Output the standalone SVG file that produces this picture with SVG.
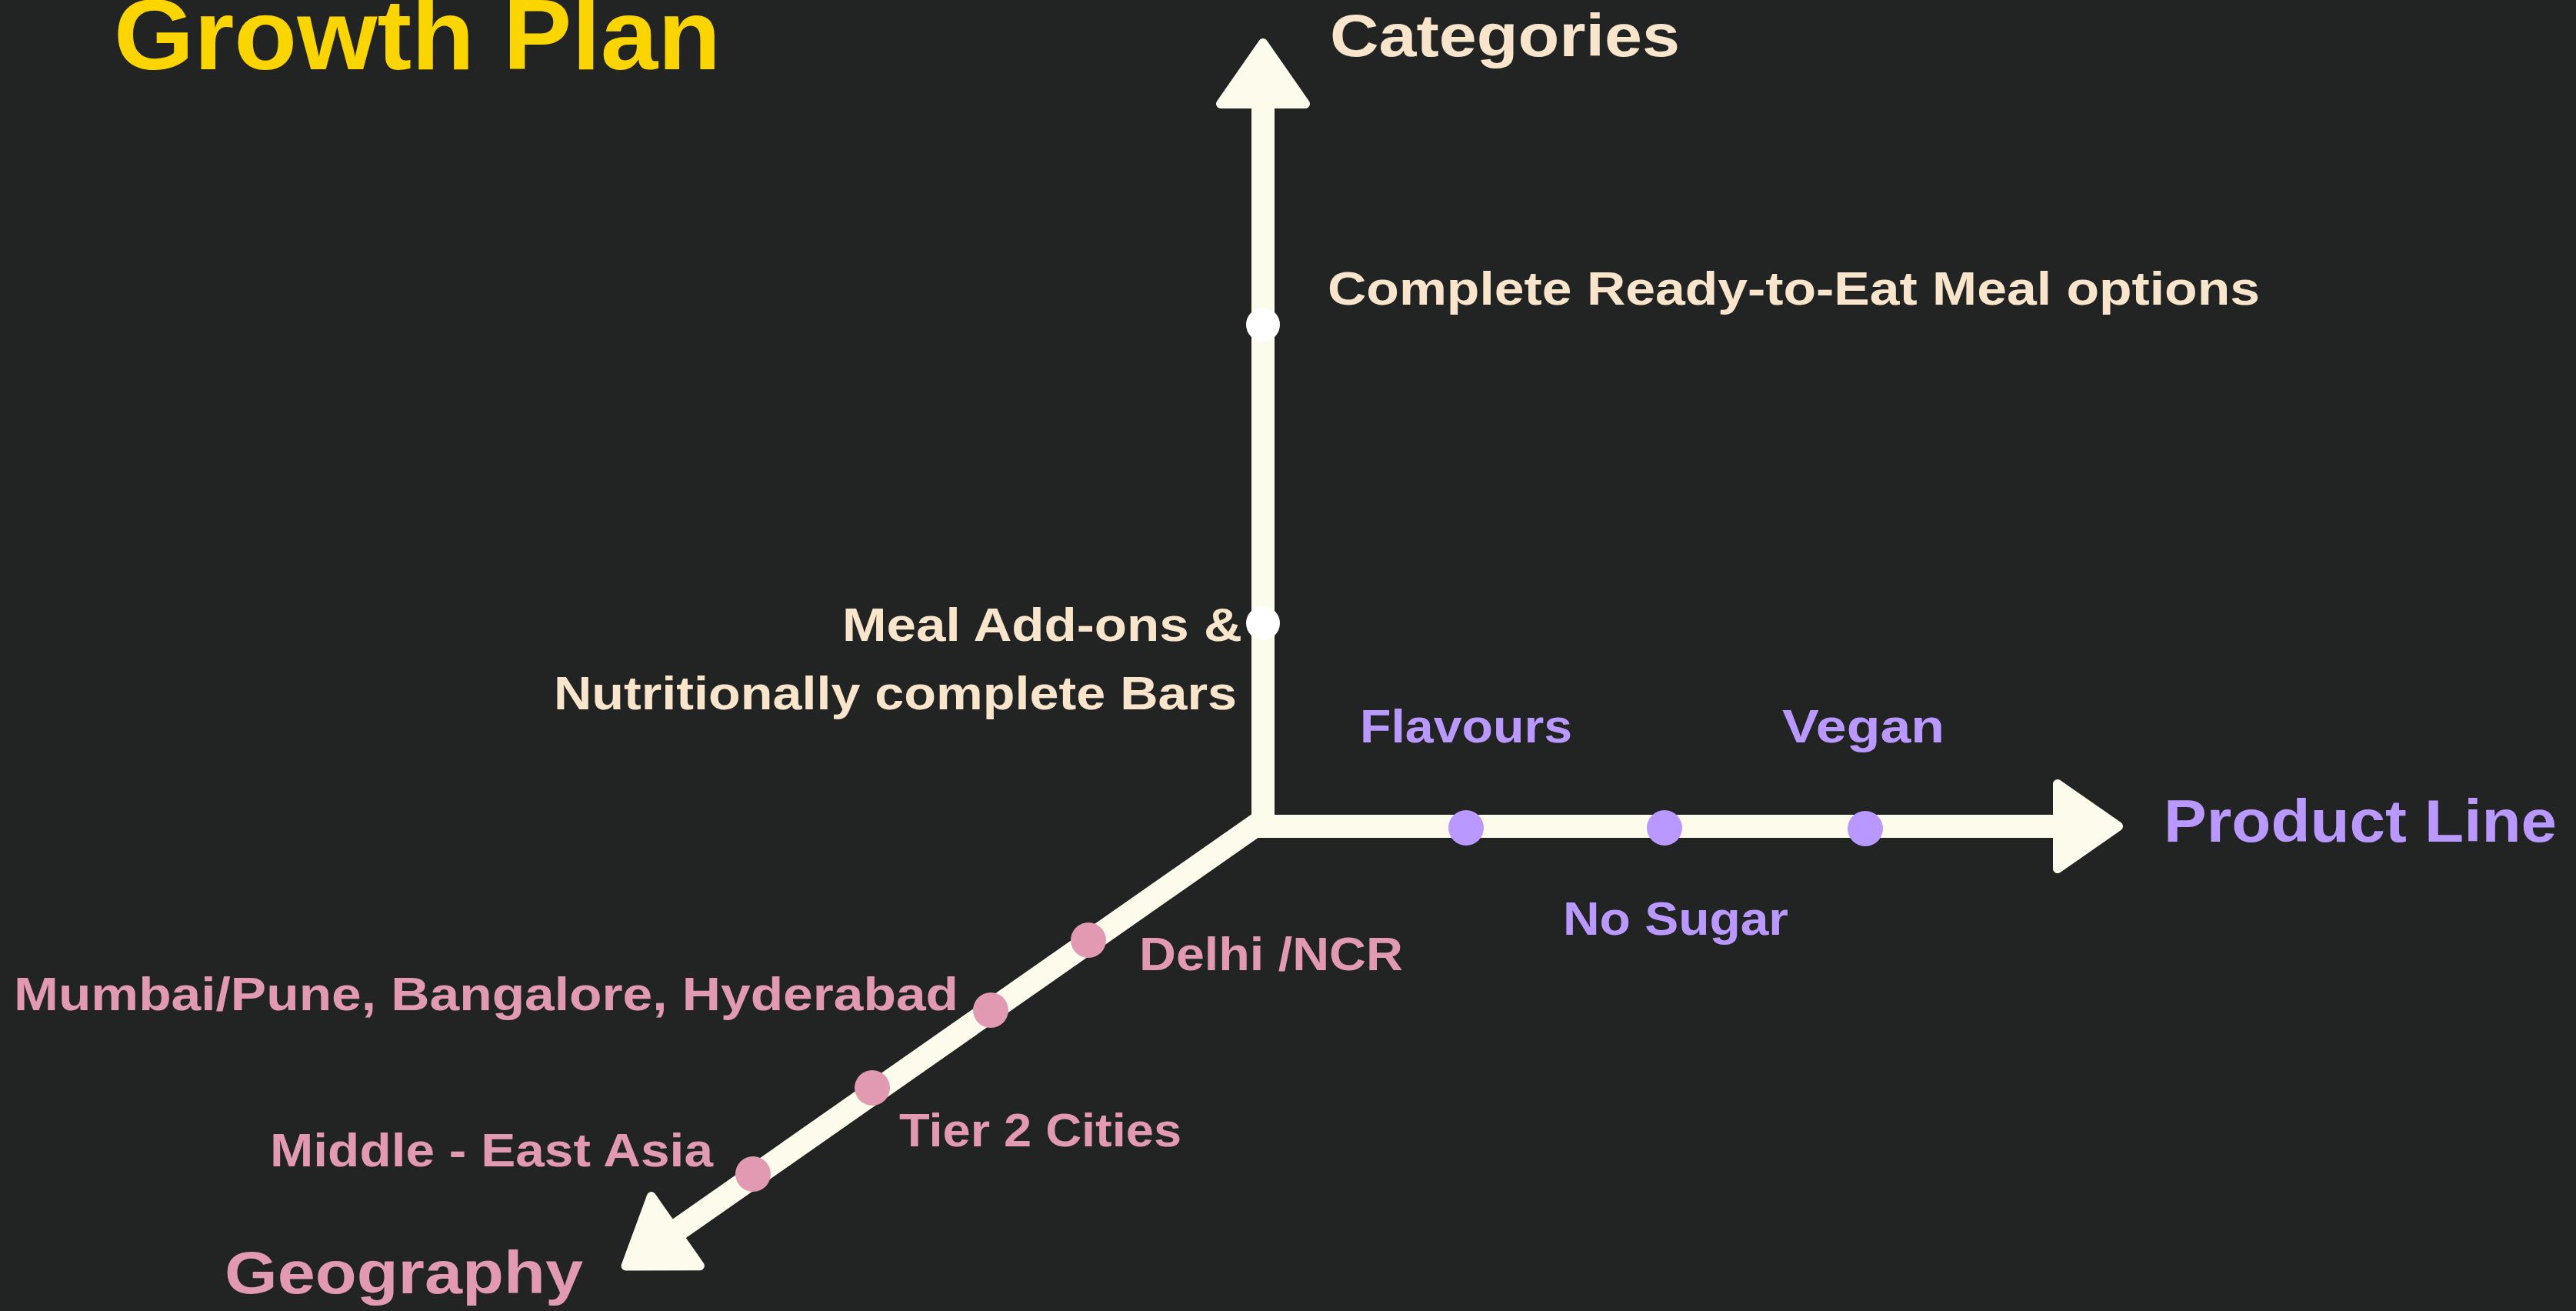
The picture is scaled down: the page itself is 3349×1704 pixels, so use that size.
<svg xmlns="http://www.w3.org/2000/svg" width="3349" height="1704" viewBox="0 0 3349 1704">
  <defs>
    <style>
      text { font-family: "Liberation Sans", Arial, sans-serif; font-weight: bold; }
      .title { fill: #FBD500; font-size: 130px; }
      .cat { fill: #F9E4CC; }
      .prod { fill: #B999FF; }
      .geo { fill: #E29AB2; }
      .lbl { font-size: 62px; }
      .axislbl { font-size: 78px; }
      .axis { stroke: #FDFCEC; stroke-width: 30; fill: none; stroke-linecap: butt; }
      .dotw { fill: #FFFFFF; }
      .dotp { fill: #B999FF; }
      .dotg { fill: #E29AB2; }
    </style>
    <marker id="head" markerUnits="userSpaceOnUse" orient="auto" refX="3" refY="0" markerWidth="100" markerHeight="130" viewBox="0 -65 100 130" overflow="visible">
      <path d="M5,-55 L84,0 L5,55 Z" fill="#FDFCEC" stroke="#FDFCEC" stroke-width="12" stroke-linejoin="round"/>
    </marker>
  </defs>
  <rect width="3349" height="1704" fill="#222423"/>

  <g id="title">
    <text class="title" x="148" y="90" textLength="789" lengthAdjust="spacingAndGlyphs">Growth Plan</text>
  </g>

  <g id="connectors">
    <line class="axis" x1="1642" y1="1082" x2="1642" y2="137" marker-end="url(#head)"/>
    <line class="axis" x1="1628" y1="1074" x2="2673" y2="1074" marker-end="url(#head)"/>
    <line class="axis" x1="1648" y1="1062" x2="880" y2="1599" marker-end="url(#head)"/>
  </g>

  <g id="categories-axis">
    <text class="cat axislbl" x="1729" y="73" textLength="455" lengthAdjust="spacingAndGlyphs">Categories</text>
  </g>
  <g id="cat-complete-meals">
    <circle class="dotw" cx="1642" cy="422" r="22"/>
    <text class="cat lbl" x="1726" y="396" textLength="1212" lengthAdjust="spacingAndGlyphs">Complete Ready-to-Eat Meal options</text>
  </g>
  <g id="cat-addons">
    <circle class="dotw" cx="1642" cy="810" r="22"/>
    <text class="cat lbl" x="1095" y="833" textLength="520" lengthAdjust="spacingAndGlyphs">Meal Add-ons &amp;</text>
    <text class="cat lbl" x="720" y="922" textLength="888" lengthAdjust="spacingAndGlyphs">Nutritionally complete Bars</text>
  </g>

  <g id="product-axis">
    <text class="prod axislbl" x="2813" y="1094" textLength="511" lengthAdjust="spacingAndGlyphs">Product Line</text>
  </g>
  <g id="prod-flavours">
    <circle class="dotp" cx="1906" cy="1076" r="23"/>
    <text class="prod lbl" x="1768" y="965" textLength="276" lengthAdjust="spacingAndGlyphs">Flavours</text>
  </g>
  <g id="prod-nosugar">
    <circle class="dotp" cx="2164" cy="1076" r="23"/>
    <text class="prod lbl" x="2032" y="1215" textLength="293" lengthAdjust="spacingAndGlyphs">No Sugar</text>
  </g>
  <g id="prod-vegan">
    <circle class="dotp" cx="2425" cy="1077" r="23"/>
    <text class="prod lbl" x="2317" y="965" textLength="211" lengthAdjust="spacingAndGlyphs">Vegan</text>
  </g>

  <g id="geography-axis">
    <text class="geo axislbl" x="292" y="1681" textLength="466" lengthAdjust="spacingAndGlyphs">Geography</text>
  </g>
  <g id="geo-delhi">
    <circle class="dotg" cx="1415" cy="1222" r="23"/>
    <text class="geo lbl" x="1481" y="1261" textLength="343" lengthAdjust="spacingAndGlyphs">Delhi /NCR</text>
  </g>
  <g id="geo-metros">
    <circle class="dotg" cx="1288" cy="1313" r="23"/>
    <text class="geo lbl" x="18" y="1313" textLength="1228" lengthAdjust="spacingAndGlyphs">Mumbai/Pune, Bangalore, Hyderabad</text>
  </g>
  <g id="geo-tier2">
    <circle class="dotg" cx="1134" cy="1414" r="23"/>
    <text class="geo lbl" x="1169" y="1490" textLength="367" lengthAdjust="spacingAndGlyphs">Tier 2 Cities</text>
  </g>
  <g id="geo-middle-east">
    <circle class="dotg" cx="979" cy="1526" r="23"/>
    <text class="geo lbl" x="351" y="1516" textLength="576" lengthAdjust="spacingAndGlyphs">Middle - East Asia</text>
  </g>
</svg>
